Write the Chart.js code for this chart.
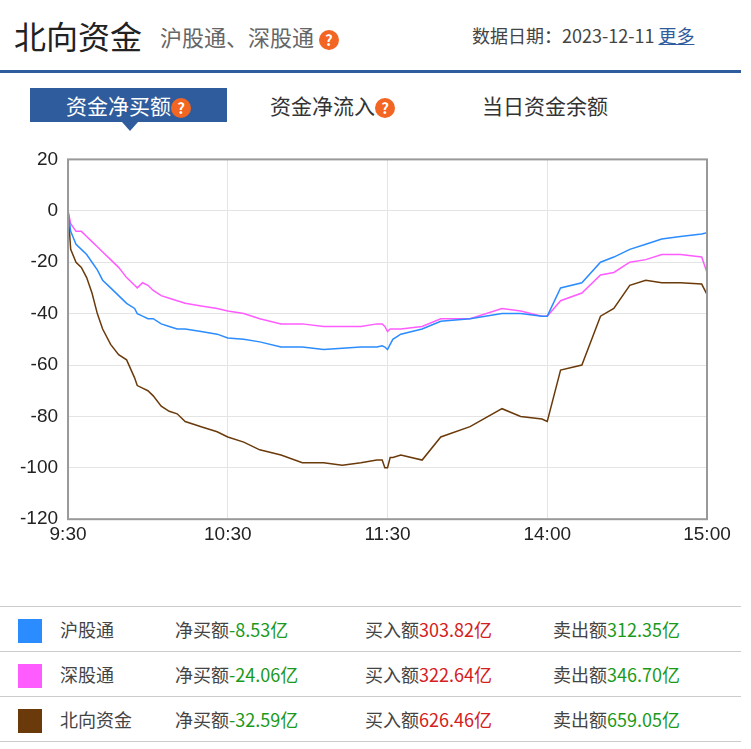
<!DOCTYPE html><html><head><meta charset="utf-8">
<script src="https://cdn.jsdelivr.net/npm/chart.js@4"></script>
<style>
body{margin:0;width:751px;height:749px;background:#fff;font-family:"Noto Sans CJK SC",sans-serif;position:relative;overflow:hidden}
.hd{position:absolute;left:0;top:0;width:741px;height:70px;border-bottom:3px solid #2f5c9c}
.t1{position:absolute;left:14px;top:12px;font-size:32px;color:#222}
.t2{position:absolute;left:160px;top:20px;font-size:22px;color:#666}
.q{display:inline-block;width:20px;height:20px;border-radius:50%;background:#f26522;color:#fff;font-size:15px;line-height:20px;text-align:center;font-weight:bold;vertical-align:middle}
.t3{position:absolute;left:472px;top:22px;font-size:18px;color:#444}
.t3 a{color:#2f5c9c;text-decoration:underline}
.tab{position:absolute;top:88px;height:34px;font-size:21px;color:#333;line-height:34px}
.sel{left:30px;width:197px;background:#2f5c9c;color:#fff;text-align:center}
.tri{position:absolute;left:122px;top:122px;width:0;height:0;border-left:8px solid transparent;border-right:8px solid transparent;border-top:9px solid #2f5c9c}
#wrap{position:absolute;left:0;top:138px;width:741px;height:422px}
table{position:absolute;left:0;top:606px;width:741px;border-collapse:collapse;font-size:18px;color:#444;table-layout:fixed}
td{border-top:1px solid #ccc;border-bottom:1px solid #ccc;height:44px;padding:0}
.sw{display:inline-block;width:24px;height:24px;vertical-align:middle}
.g{color:#1a9a1a}.r{color:#d42020}
</style></head><body>
<div class="hd"><div class="t1">北向资金</div><div class="t2">沪股通、深股通 <span class="q">?</span></div><div class="t3">数据日期：2023-12-11 <a>更多</a></div></div>
<div class="tab sel">资金净买额<span class="q">?</span></div><div class="tri"></div>
<div class="tab" style="left:270px">资金净流入<span class="q">?</span></div>
<div class="tab" style="left:482px">当日资金余额</div>
<div id="wrap"><canvas id="c"></canvas></div>
<table>
<tr><td style="width:60px;padding-left:18px;box-sizing:border-box"><span class="sw" style="background:#2b8cff"></span></td><td style="width:115px">沪股通</td><td style="width:190px">净买额<span class="g">-8.53亿</span></td><td style="width:188px">买入额<span class="r">303.82亿</span></td><td>卖出额<span class="g">312.35亿</span></td></tr>
<tr><td style="padding-left:18px"><span class="sw" style="background:#ff5cff"></span></td><td>深股通</td><td>净买额<span class="g">-24.06亿</span></td><td>买入额<span class="r">322.64亿</span></td><td>卖出额<span class="g">346.70亿</span></td></tr>
<tr><td style="padding-left:18px"><span class="sw" style="background:#6b3a0a"></span></td><td>北向资金</td><td>净买额<span class="g">-32.59亿</span></td><td>买入额<span class="r">626.46亿</span></td><td>卖出额<span class="g">659.05亿</span></td></tr>
</table>
<script>
const minutes=[0,1,3,5,7,9,11,13,16,19,22,25,26,28,30,32,35,38,41,44,50,56,60,66,72,80,88,96,103,110,116,118,119,120,121,122,125,133,140,151,163,170,178,180,185,193,200,205,211,217,223,230,238,240];
const hgt=[0,-8,-13,-15,-17,-20,-23,-27,-30,-33,-36,-38,-40,-41,-42,-42,-44,-45,-46,-46,-47,-48,-49.5,-50,-51,-53,-53,-54,-53.5,-53,-53,-52.5,-53,-54,-52,-50,-48,-46,-43,-42,-40,-40,-41,-41,-30,-28,-20,-18,-15,-13,-11,-10,-9,-8.5];
const sgt=[0,-5,-8,-8,-10,-12,-14,-16,-19,-22,-26,-29,-30,-28,-29,-31,-33,-34,-35,-36,-37,-38,-39,-40,-42,-44,-44,-45,-45,-45,-44,-44,-45,-47,-46,-46,-46,-45,-42,-42,-38,-39,-41,-41,-35,-32,-25,-24,-20,-19,-17,-17,-18,-24];
const bx=[0,-15,-20,-22,-26,-32,-40,-46,-52,-56,-58,-65,-68,-69,-70,-72,-76,-78,-79,-82,-84,-86,-88,-90,-93,-95,-98,-98,-99,-98,-97,-97,-100,-100,-96,-96,-95,-97,-88,-84,-77,-80,-81,-82,-62,-60,-41,-38,-29,-27,-28,-28,-28.5,-32.5];
const tickLabels={0:'9:30',60:'10:30',120:'11:30',180:'14:00',240:'15:00'};
const mk=(d,c)=>({data:minutes.map((m,i)=>({x:m,y:d[i]})),borderColor:c,borderWidth:1.5,pointRadius:0,tension:0});
const box={id:'box',afterDraw(c){const a=c.chartArea,x=c.ctx;x.save();x.strokeStyle='#999';x.lineWidth=2;x.strokeRect(a.left,a.top,a.right-a.left,a.bottom-a.top);x.restore();}};
new Chart(document.getElementById('c'),{type:'line',data:{datasets:[mk(hgt,'#2b8cff'),mk(sgt,'#ff5cff'),mk(bx,'#6b3a0a')]},plugins:[box],
options:{responsive:true,maintainAspectRatio:false,animation:false,layout:{padding:{left:10,right:34,top:8,bottom:10}},
plugins:{legend:{display:false},tooltip:{enabled:false}},
scales:{x:{type:'linear',min:0,max:240,afterBuildTicks:a=>{a.ticks=[0,60,120,180,240].map(v=>({value:v}))},
ticks:{callback:v=>tickLabels[v],color:'#222',font:{size:19,family:'Liberation Sans'},maxRotation:0,padding:4},
grid:{color:'#e4e4e4',tickLength:0},border:{display:false}},
y:{min:-120,max:20,ticks:{stepSize:20,color:'#222',font:{size:19,family:'Liberation Sans'},padding:10},grid:{color:'#e4e4e4',tickLength:0},border:{display:false}}}}});
</script></body></html>
